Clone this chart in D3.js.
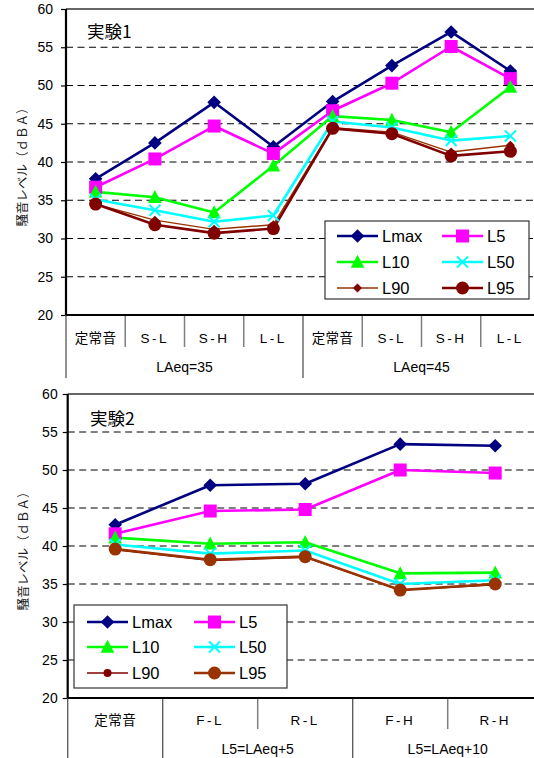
<!DOCTYPE html>
<html><head><meta charset="utf-8">
<script src="https://cdn.jsdelivr.net/npm/d3@7"></script>
<style>
html,body{margin:0;padding:0;background:#fff;}
svg{display:block;font-family:"Liberation Sans",Arial,"Noto Sans CJK JP",sans-serif;}
</style></head>
<body><svg id="c" width="534" height="758"></svg>
<script>
// ---- data ----
const seriesNames = ["Lmax","L5","L10","L50","L90","L95"];
const yTicks = [20,25,30,35,40,45,50,55,60];

const exp1Title = "実験1";
const exp1Categories = ["定常音","S-L","S-H","L-L","定常音","S-L","S-H","L-L"];
const exp1Groups = [{label:"LAeq=35", start:0, end:3},{label:"LAeq=45", start:4, end:7}];
const exp1Lmax = [37.8, 42.5, 47.8, 42.0, 47.9, 52.6, 57.0, 51.9];
const exp1L5   = [36.7, 40.4, 44.7, 41.1, 46.7, 50.3, 55.1, 50.9];
const exp1L10  = [36.1, 35.4, 33.4, 39.5, 46.0, 45.5, 43.9, 49.8];
const exp1L50  = [35.1, 33.7, 32.2, 33.0, 45.3, 44.5, 42.8, 43.4];
const exp1L90  = [34.5, 32.4, 31.2, 31.8, 44.5, 43.9, 41.3, 42.2];
const exp1L95  = [34.5, 31.8, 30.7, 31.3, 44.4, 43.7, 40.8, 41.4];

const exp2Title = "実験2";
const exp2Categories = ["定常音","F-L","R-L","F-H","R-H"];
const exp2Groups = [{label:"", start:0, end:0},{label:"L5=LAeq+5", start:1, end:2},{label:"L5=LAeq+10", start:3, end:4}];
const exp2Lmax = [42.8, 48.0, 48.2, 53.4, 53.2];
const exp2L5   = [41.6, 44.6, 44.8, 50.0, 49.6];
const exp2L10  = [41.1, 40.3, 40.5, 36.4, 36.5];
const exp2L50  = [40.2, 39.0, 39.4, 35.0, 35.5];
const exp2L90  = [39.5, 38.1, 38.5, 34.2, 34.9];
const exp2L95  = [39.6, 38.2, 38.6, 34.2, 35.0];

// ---- shapes ----
function shapePath(type, r){
  const p = d3.path();
  if(type==="diamond"){ p.moveTo(0,-r); p.lineTo(r,0); p.lineTo(0,r); p.lineTo(-r,0); p.closePath(); }
  else if(type==="square"){ p.rect(-r,-r,2*r,2*r); }
  else if(type==="triangle"){ p.moveTo(0,-r*1.05); p.lineTo(r,r*0.85); p.lineTo(-r,r*0.85); p.closePath(); }
  else if(type==="x"){ p.moveTo(-r,-r); p.lineTo(r,r); p.moveTo(r,-r); p.lineTo(-r,r); }
  else if(type==="circle"){ p.arc(0,0,r,0,2*Math.PI); }
  return p.toString();
}

const svg = d3.select("#c");

function drawChart(cfg){
  const g = svg.append("g");
  const y = d3.scaleLinear().domain([20,60]).range([cfg.bottom, cfg.top]);
  const idx = cfg.categories.map((d,i)=>i);
  const x = d3.scaleBand().domain(idx).range([cfg.left, cfg.right]).paddingInner(0).paddingOuter(0);
  const cx = i => x(i) + x.bandwidth()/2;

  // gridlines
  g.append("g").selectAll("line").data(yTicks.filter(t=>t>20 && t<60)).join("line")
    .attr("x1", cfg.left).attr("x2", cfg.right).attr("y1", d=>y(d)).attr("y2", d=>y(d))
    .attr("stroke","#000").attr("stroke-width",1).attr("stroke-dasharray","7,4.5");
  // top border
  g.append("line").attr("x1",cfg.left).attr("x2",cfg.right).attr("y1",y(60)).attr("y2",y(60))
    .attr("stroke","#333").attr("stroke-width",1.5);

  // y axis
  const ya = d3.axisLeft(y).tickValues(yTicks).tickSize(5).tickPadding(cfg.tickPad);
  const yg = g.append("g").attr("transform",`translate(${cfg.left},0)`).call(ya);
  yg.select(".domain").remove();
  yg.selectAll(".tick line").attr("stroke","#000").attr("stroke-width",1.2);
  yg.selectAll(".tick text").attr("font-size",14).attr("fill","#000")
    .attr("font-family","'Liberation Sans',Arial,sans-serif");
  g.append("line").attr("x1",cfg.left).attr("x2",cfg.left).attr("y1",cfg.top).attr("y2",cfg.bottom)
    .attr("stroke","#000").attr("stroke-width",2.2);

  // y label
  g.append("text").attr("transform",`translate(${cfg.ylabX},${(cfg.top+cfg.bottom)/2+2}) rotate(-90)`)
    .attr("text-anchor","middle").attr("dominant-baseline","central")
    .attr("font-size",12.5).attr("font-family","'Noto Sans CJK JP',sans-serif").attr("fill","#222")
    .text("騒音レベル（ｄＢＡ）");

  // category axis
  const groupStarts = cfg.groups.map(gr=>gr.start);
  g.append("g").selectAll("line").data(idx.filter(i=>i>0 && !groupStarts.includes(i))).join("line")
    .attr("x1",d=>x(d)).attr("x2",d=>x(d)).attr("y1",cfg.bottom).attr("y2",cfg.bottom+cfg.shortDiv)
    .attr("stroke","#7f7f7f").attr("stroke-width",1.5);
  g.append("g").selectAll("line").data(groupStarts.filter(i=>i>0)).join("line")
    .attr("x1",d=>x(d)).attr("x2",d=>x(d)).attr("y1",cfg.bottom).attr("y2",cfg.longEnd)
    .attr("stroke","#555").attr("stroke-width",1.3);
  g.append("line").attr("x1",cfg.left).attr("x2",cfg.left).attr("y1",cfg.bottom).attr("y2",cfg.longEnd)
    .attr("stroke","#555").attr("stroke-width",1.3);
  g.append("g").selectAll("text").data(idx).join("text")
    .attr("x",d=>cx(d)).attr("y",cfg.catY).attr("text-anchor","middle").attr("dominant-baseline","central")
    .attr("font-size",13.5).attr("fill","#000")
    .attr("letter-spacing", d=> /^[A-Z]/.test(cfg.categories[d]) ? "2.5px" : "0.5px")
    .attr("font-family","'Liberation Sans',Arial,'Noto Sans CJK JP',sans-serif")
    .text(d=>cfg.categories[d]);
  g.append("g").selectAll("text").data(cfg.groups.filter(gr=>gr.label)).join("text")
    .attr("x",gr=>(x(gr.start)+x(gr.end)+x.bandwidth())/2).attr("y",cfg.groupY)
    .attr("text-anchor","middle").attr("dominant-baseline","central")
    .attr("font-size",14).attr("fill","#000").text(gr=>gr.label);
  g.append("line").attr("x1",cfg.left).attr("x2",cfg.right).attr("y1",cfg.bottom).attr("y2",cfg.bottom)
    .attr("stroke","#000").attr("stroke-width",2.2);

  // title
  g.append("text").attr("x",cfg.titleX).attr("y",cfg.titleY).attr("dominant-baseline","central")
    .attr("font-size",17.5).attr("font-family","'Noto Sans CJK JP',sans-serif").attr("fill","#000")
    .text(cfg.title);

  // series
  const line = d3.line().x((d,i)=>cx(i)).y(d=>y(d));
  cfg.series.forEach(s=>{
    g.append("path").attr("d",line(s.values)).attr("fill","none")
      .attr("stroke",s.line).attr("stroke-width",s.lw).attr("stroke-linejoin","round");
  });
  cfg.series.forEach(s=>{
    g.append("g").selectAll("path").data(s.values).join("path")
      .attr("transform",(d,i)=>`translate(${cx(i)},${y(d)})`)
      .attr("d",shapePath(s.shape,s.r))
      .attr("fill", s.shape==="x" ? "none" : s.fill)
      .attr("stroke", s.shape==="x" ? s.fill : "none")
      .attr("stroke-width", s.shape==="x" ? 2 : 0);
  });

  // legend
  const L = cfg.legend;
  const lg = g.append("g");
  lg.append("rect").attr("x",L.x).attr("y",L.y).attr("width",L.w).attr("height",L.h)
    .attr("fill","#fff").attr("stroke","#333").attr("stroke-width",1.2);
  cfg.series.forEach((s,k)=>{
    const col = k%2, row = Math.floor(k/2);
    const x0 = L.colX[col], yy = L.rowY[row];
    lg.append("line").attr("x1",x0).attr("x2",x0+41).attr("y1",yy).attr("y2",yy)
      .attr("stroke",s.line).attr("stroke-width",s.lw);
    lg.append("path").attr("transform",`translate(${x0+20.5},${yy})`).attr("d",shapePath(s.shape,s.r))
      .attr("fill", s.shape==="x" ? "none" : s.fill)
      .attr("stroke", s.shape==="x" ? s.fill : "none").attr("stroke-width", s.shape==="x"?2:0);
    lg.append("text").attr("x",x0+45).attr("y",yy).attr("dominant-baseline","central")
      .attr("font-size",16.5).attr("fill","#000").text(seriesNames[k]);
  });
}

drawChart({
  title: exp1Title, titleX: 87, titleY: 30,
  categories: exp1Categories, groups: exp1Groups,
  left: 66, right: 540, top: 9, bottom: 315, tickPad: 8, ylabX: 21,
  shortDiv: 32, longEnd: 378, catY: 338, groupY: 367,
  legend: {x:325, y:221, w:204, h:78, colX:[337,442], rowY:[236,262,288]},
  series: [
    {values: exp1Lmax, line:"#000080", fill:"#000080", shape:"diamond", r:6.8, lw:2.6},
    {values: exp1L5,   line:"#ff00ff", fill:"#ff00ff", shape:"square",  r:6.5, lw:2.6},
    {values: exp1L10,  line:"#00ff00", fill:"#00ff00", shape:"triangle",r:6.8, lw:2.6},
    {values: exp1L50,  line:"#00ffff", fill:"#00ffff", shape:"x",       r:5.5, lw:2.6},
    {values: exp1L90,  line:"#993300", fill:"#800000", shape:"diamond", r:4.5, lw:1.4},
    {values: exp1L95,  line:"#800000", fill:"#800000", shape:"circle",  r:6.5, lw:2.6}
  ]
});

drawChart({
  title: exp2Title, titleX: 90, titleY: 417,
  categories: exp2Categories, groups: exp2Groups,
  left: 67.7, right: 542.7, top: 394, bottom: 698, tickPad: 5, ylabX: 22,
  shortDiv: 31, longEnd: 758, catY: 720, groupY: 749,
  legend: {x:74, y:605, w:213, h:83, colX:[87,194], rowY:[622,647,673]},
  series: [
    {values: exp2Lmax, line:"#000080", fill:"#000080", shape:"diamond", r:6.8, lw:2.6},
    {values: exp2L5,   line:"#ff00ff", fill:"#ff00ff", shape:"square",  r:6.5, lw:2.6},
    {values: exp2L10,  line:"#00ff00", fill:"#00ff00", shape:"triangle",r:6.8, lw:2.6},
    {values: exp2L50,  line:"#00ffff", fill:"#00ffff", shape:"x",       r:5.5, lw:2.6},
    {values: exp2L90,  line:"#800000", fill:"#800000", shape:"circle",  r:4,   lw:1.4},
    {values: exp2L95,  line:"#993300", fill:"#993300", shape:"circle",  r:6.5, lw:2.6}
  ]
});
</script>
</body></html>
